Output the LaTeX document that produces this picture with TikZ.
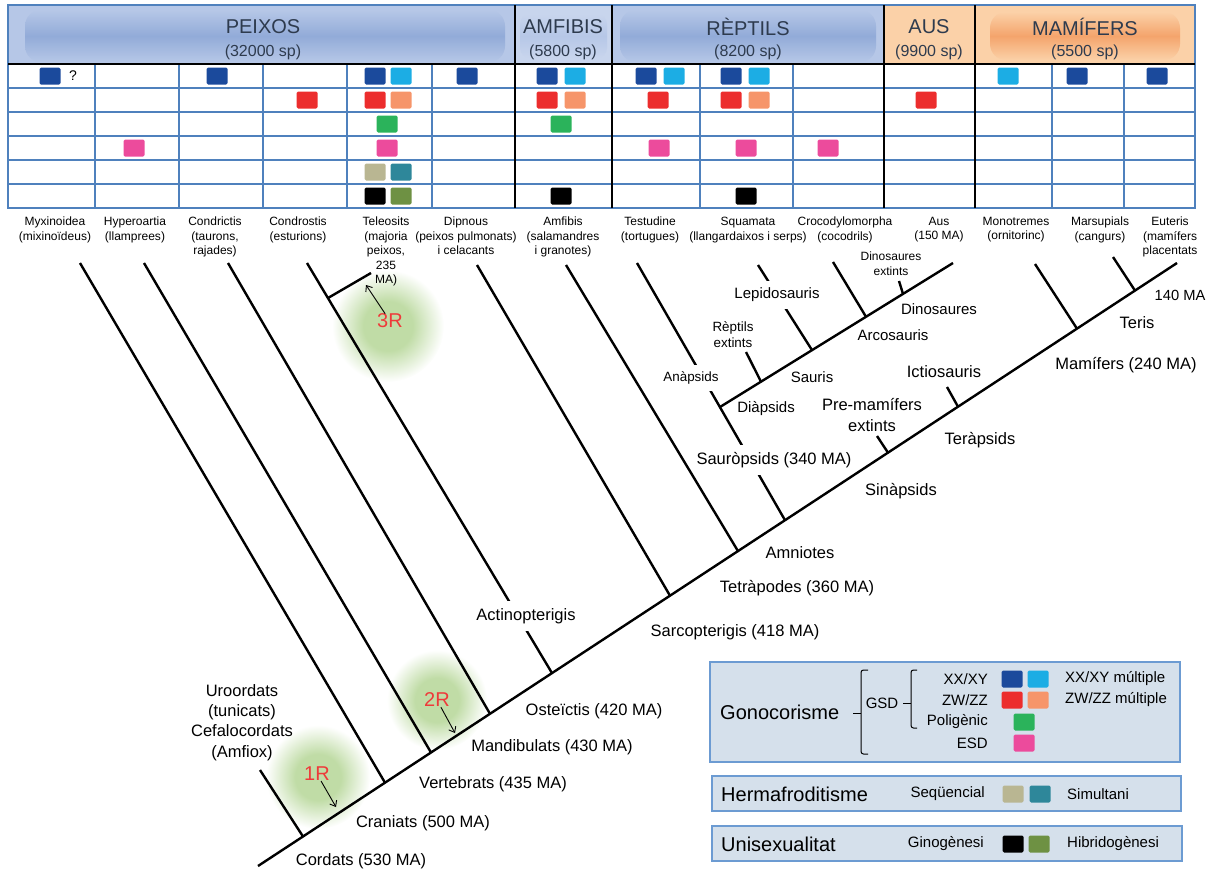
\documentclass[tikz,border=0pt]{standalone}
\usepackage{fontspec}
\setmainfont{Liberation Sans}
\usetikzlibrary{arrows.meta}

\definecolor{xxblue}{HTML}{1B4A9C}
\definecolor{xxmult}{HTML}{1CADE4}
\definecolor{zwred}{HTML}{EC2D2D}
\definecolor{zwmult}{HTML}{F6956A}
\definecolor{polig}{HTML}{2BB35B}
\definecolor{esdpink}{HTML}{EC4B9C}
\definecolor{seqtan}{HTML}{B9B692}
\definecolor{simteal}{HTML}{2E879A}
\definecolor{hibolive}{HTML}{6E9143}
\definecolor{gridblue}{HTML}{4F81BD}
\definecolor{hdrblue}{HTML}{B6C7E7}
\definecolor{hdrbluedk}{HTML}{92ABD8}
\definecolor{hdrorange}{HTML}{FBD1A8}
\definecolor{hdrorangedk}{HTML}{F4A46C}
\definecolor{hdrtext}{HTML}{2E3B4E}
\definecolor{legfill}{HTML}{D5E0EB}
\definecolor{legline}{HTML}{6C9BD2}
\definecolor{glowgreen}{HTML}{C0DCA6}
\definecolor{dupred}{HTML}{EE3A3A}
\pgfdeclareradialshading{glowshade}{\pgfpoint{0bp}{0bp}}{color(0bp)=(glowgreen); color(11bp)=(glowgreen); color(25bp)=(white); color(50bp)=(white)}

\begin{document}
\begin{tikzpicture}
  [x=1pt,y=-1pt,every node/.style={inner sep=0pt,align=center,text=black},
   branch/.style={line width=2.4pt},
   cutout/.style={fill=white,inner xsep=1pt,inner ysep=7pt},
   clade/.style={font=\fontsize{16.5}{20.3}\selectfont},
   subclade/.style={font=\fontsize{15}{18}\selectfont},
   minor/.style={font=\fontsize{13.4}{16}\selectfont},
   taxon/.style={anchor=north,font=\fontsize{12}{14.5}\selectfont},
   sq/.style={fill=#1,rounded corners=1.5pt,minimum width=21pt,minimum height=17pt},
   dup/.style={text=dupred,font=\fontsize{20}{24}\selectfont},
   duparrow/.style={-{Straight Barb[length=5pt,width=8pt]},line width=0.9pt},
   glow/.style={shading=glowshade},
   gridln/.style={gridblue,line width=1.6pt},
   blackln/.style={line width=2.8pt},
   hdr/.style={text=hdrtext,font=\fontsize{20}{24}\selectfont},
   hdrsub/.style={text=hdrtext,font=\fontsize{16}{19}\selectfont},
   legbox/.style={draw=legline,fill=legfill,line width=1.6pt},
   legtitle/.style={anchor=west,font=\fontsize{20}{24}\selectfont},
   legitem/.style={font=\fontsize{15}{18}\selectfont},
   brk/.style={line width=1pt,rounded corners=2.5pt}]
  \useasboundingbox (0,0) rectangle (1214,870);

  \shade[glow] (318,777) circle (52);
  \shade[glow] (437,700) circle (50);
  \shade[glow] (388,326) circle (56);

  \fill[hdrblue] (9,6) rectangle (515,63);
  \shade[rounded corners=16pt,top color=hdrblue,bottom color=hdrblue,middle color=hdrbluedk] (25,10) rectangle (505,62);
  \fill[hdrblue!75!white] (515,6) rectangle (612,63);
  \shade[rounded corners=10pt,top color=hdrblue!75!white,bottom color=hdrblue!75!white,middle color=hdrblue] (520,14) rectangle (607,58);
  \fill[hdrblue] (612,6) rectangle (884,63);
  \shade[rounded corners=16pt,top color=hdrblue,bottom color=hdrblue,middle color=hdrbluedk] (620,10) rectangle (876,62);
  \fill[hdrorange] (884,6) rectangle (975,63);
  \fill[hdrorange] (975,6) rectangle (1195,63);
  \shade[rounded corners=16pt,top color=hdrorange,bottom color=hdrorange,middle color=hdrorangedk] (990,12) rectangle (1180,60);

  \foreach \gy in {88,112,...,184}
    \draw[gridln] (9,\gy) -- (1195,\gy);
  \foreach \gx in {95,179,263,347,432,700,793,1052,1124}
    \draw[gridln] (\gx,64) -- (\gx,208);
  \draw[gridln,line width=2pt] (8,5) rectangle (1195,208);
  \draw[blackln] (8,64) -- (1195,64);
  \foreach \gx in {515,612,884,975}
    \draw[blackln] (\gx,5) -- (\gx,208);

  \node[hdr] (hpeix) at (263,27) {PEIXOS};
  \node[hdrsub] (hpeixn) at (263,52) {(32000 sp)};
  \node[hdr] (hamf) at (563,27) {AMFIBIS};
  \node[hdrsub] (hamfn) at (563,52) {(5800 sp)};
  \node[hdr] (hrep) at (748,27) {RÈPTILS};
  \node[hdrsub] (hrepn) at (748,52) {(8200 sp)};
  \node[hdr] (haus) at (929,27) {AUS};
  \node[hdrsub] (hausn) at (929,52) {(9900 sp)};
  \node[hdr] (hmam) at (1085,27) {MAMÍFERS};
  \node[hdrsub] (hmamn) at (1085,52) {(5500 sp)};

  \foreach \cx/\ry/\col in {50/1/xxblue,134/4/esdpink,217/1/xxblue,307/2/zwred,
    375/1/xxblue,401/1/xxmult,375/2/zwred,401/2/zwmult,387/3/polig,387/4/esdpink,
    375/5/seqtan,401/5/simteal,375/6/black,401/6/hibolive,467/1/xxblue,
    547/1/xxblue,575/1/xxmult,547/2/zwred,575/2/zwmult,561/3/polig,561/6/black,
    646/1/xxblue,674/1/xxmult,658/2/zwred,659/4/esdpink,
    731/1/xxblue,759/1/xxmult,731/2/zwred,759/2/zwmult,746/4/esdpink,746/6/black,
    828/4/esdpink,926/2/zwred,1008/1/xxmult,1077/1/xxblue,1157/1/xxblue}
    \node[sq=\col] (m-\cx-\ry) at (\cx,52+24*\ry) {};
  \node[font=\fontsize{14}{16}\selectfont] (qmark) at (73,76) {?};

  \node[taxon] (tmyx) at (55,217) {Myxinoidea\\(mixinoïdeus)};
  \node[taxon] (thyp) at (135,217) {Hyperoartia\\(llamprees)};
  \node[taxon] (tcondric) at (215,217) {Condrictis\\(taurons,\\rajades)};
  \node[taxon] (tcondros) at (298,217) {Condrostis\\(esturions)};
  \node[taxon] (tteleo) at (386,217) {Teleosits\\(majoria\\peixos,\\235\\MA)};
  \node[taxon] (tdip) at (466,217) {Dipnous\\(peixos pulmonats)\\i celacants};
  \node[taxon] (tamf) at (563,217) {Amfibis\\(salamandres\\i granotes)};
  \node[taxon] (ttest) at (650,217) {Testudine\\(tortugues)};
  \node[taxon] (tsqua) at (748,217) {Squamata\\(llangardaixos i serps)};
  \node[taxon] (tcroc) at (845,217) {Crocodylomorpha\\(cocodrils)};
  \node[taxon] (taus) at (939,217) {Aus\\(150 MA)};
  \node[taxon] (tmono) at (1016,217) {Monotremes\\(ornitorinc)};
  \node[taxon] (tmars) at (1100,217) {Marsupials\\(cangurs)};
  \node[taxon] (teut) at (1170,217) {Euteris\\(mamífers\\placentats};

  \coordinate (root) at (258,866);
  \coordinate (eut) at (1177,263);
  \coordinate (cordats) at (303,836.5);
  \coordinate (craniats) at (385,782.7);
  \coordinate (vertebrats) at (431,752.5);
  \coordinate (mandibulats) at (490,713.8);
  \coordinate (osteictis) at (552,673.1);
  \coordinate (sarcopt) at (670,595.7);
  \coordinate (tetrapodes) at (738,551.1);
  \coordinate (amniotes) at (785,520.2);
  \coordinate (premam) at (888,452.7);
  \coordinate (terapsids) at (958,406.7);
  \coordinate (mamifers) at (1077,328.7);
  \coordinate (teris) at (1135,290.6);
  \coordinate (uro) at (260,770);
  \coordinate (myx) at (80,263);
  \coordinate (hyp) at (144,263);
  \coordinate (condric) at (228,263);
  \coordinate (condros) at (307,263);
  \coordinate (teleostj) at (328,298);
  \coordinate (teleo) at (371,273);
  \coordinate (dip) at (477,265);
  \coordinate (amf) at (566,265);
  \coordinate (testu) at (637,263);
  \coordinate (diapsids) at (720,407);
  \coordinate (aus) at (953,263);
  \coordinate (jrext) at (761,381.7);
  \coordinate (rext) at (746,352);
  \coordinate (lepido) at (812,350.1);
  \coordinate (squa) at (758,265);
  \coordinate (arco) at (866,316.8);
  \coordinate (croc) at (833,262);
  \coordinate (dino) at (903,293.9);
  \coordinate (dext) at (899,281);
  \coordinate (prex) at (877,436);
  \coordinate (icti) at (947,387);
  \coordinate (mono) at (1035,264);
  \coordinate (mars) at (1113,257);

  \foreach \from/\to in {uro/cordats,myx/craniats,hyp/vertebrats,condric/mandibulats,
    condros/osteictis,teleo/teleostj,dip/sarcopt,amf/tetrapodes,testu/amniotes,
    diapsids/aus,rext/jrext,squa/lepido,croc/arco,dext/dino,prex/premam,
    icti/terapsids,mono/mamifers,mars/teris}
    \draw[branch] (\from) -- (\to);

  \node[clade,cutout] (lactino) at (526,616) {Actinopterigis};
  \node[clade,cutout] (lsauro) at (774,460) {Sauròpsids (340 MA)};
  \node[minor,cutout] (lanap) at (691,378) {Anàpsids};
  \node[subclade,cutout] (llepido) at (777,295) {Lepidosauris};

  \draw[branch] (root) -- (eut);

  \node[clade] (luro) at (242,722.5) {Uroordats\\(tunicats)\\Cefalocordats\\(Amfiox)};
  \node[clade] (lcordats) at (361,861) {Cordats (530 MA)};
  \node[clade] (lcraniats) at (423,823) {Craniats (500 MA)};
  \node[clade] (lvert) at (493,784) {Vertebrats (435 MA)};
  \node[clade] (lmand) at (552,747) {Mandibulats (430 MA)};
  \node[clade] (lost) at (594,711) {Osteïctis (420 MA)};
  \node[clade] (lsarc) at (735,632) {Sarcopterigis (418 MA)};
  \node[clade] (ltetra) at (797,588) {Tetràpodes (360 MA)};
  \node[clade] (lamnio) at (800,553) {Amniotes};
  \node[subclade] (ldiap) at (766,409) {Diàpsids};
  \node[minor] (lrext) at (733,335) {Rèptils\\extints};
  \node[subclade] (lsauris) at (812,377) {Sauris};
  \node[subclade] (larco) at (893,335) {Arcosauris};
  \node[subclade] (ldino) at (939,309) {Dinosaures};
  \node[font=\fontsize{12}{15}\selectfont] (ldext) at (891,263.5) {Dinosaures\\extints};
  \node[clade] (lprem) at (872,415) {Pre-mamífers\\extints};
  \node[clade] (licti) at (944,372) {Ictiosauris};
  \node[clade] (lterap) at (980,440) {Teràpsids};
  \node[clade] (lsinap) at (901,491) {Sinàpsids};
  \node[clade] (lmam) at (1126,365) {Mamífers (240 MA)};
  \node[clade] (lteris) at (1137,323) {Teris};
  \node[font=\fontsize{14.7}{17}\selectfont] (l140) at (1180,295) {140 MA};

  \node[dup] (d1) at (317,774) {1R};
  \node[dup] (d2) at (437,700) {2R};
  \node[dup] (d3) at (390,321) {3R};
  \coordinate (a1) at (336,807);
  \coordinate (a2) at (455,733);
  \coordinate (a3) at (366,285);
  \foreach \from/\to in {d1/a1,d2/a2,d3/a3}
    \draw[duparrow] (\from) -- (\to);

  \draw[legbox] (710,662) rectangle (1180,762);
  \draw[legbox] (712,776) rectangle (1181,811);
  \draw[legbox] (712,826) rectangle (1182,861);

  \node[legtitle] (tgono) at (720,712) {Gonocorisme};
  \node[legtitle] (therm) at (721,794) {Hermafroditisme};
  \node[legtitle] (tunis) at (721,844) {Unisexualitat};
  \draw[brk] (868,670) -- (861,670) -- (861,754) -- (868,754);
  \draw[brk] (853,713) -- (861,713);
  \node[legitem] (tgsd) at (882,703) {GSD};
  \draw[brk] (917,670) -- (911,670) -- (911,728) -- (917,728);
  \draw[brk] (903,703) -- (911,703);
  \node[legitem,anchor=east] (txx) at (988,679) {XX/XY};
  \node[legitem,anchor=east] (tzw) at (988,700) {ZW/ZZ};
  \node[legitem,anchor=east] (tpol) at (988,722) {Poligènic};
  \node[legitem,anchor=east] (tesd) at (988,743) {ESD};
  \node[legitem,anchor=west] (txxm) at (1065,679) {XX/XY múltiple};
  \node[legitem,anchor=west] (tzwm) at (1065,700) {ZW/ZZ múltiple};
  \node[legitem,anchor=east] (tseq) at (985,794) {Seqüencial};
  \node[legitem,anchor=west] (tsim) at (1067,794) {Simultani};
  \node[legitem,anchor=east] (tgin) at (984,844) {Ginogènesi};
  \node[legitem,anchor=west] (thib) at (1067,844) {Hibridogènesi};

  \node[sq=xxblue] (kxx) at (1012,679) {};
  \node[sq=xxmult] (kxxm) at (1038,679) {};
  \node[sq=zwred] (kzw) at (1012,700) {};
  \node[sq=zwmult] (kzwm) at (1038,700) {};
  \node[sq=polig] (kpol) at (1024,722) {};
  \node[sq=esdpink] (kesd) at (1024,743) {};
  \node[sq=seqtan] (kseq) at (1013,794) {};
  \node[sq=simteal] (ksim) at (1040,794) {};
  \node[sq=black] (kgin) at (1013,844) {};
  \node[sq=hibolive] (khib) at (1039,844) {};
\end{tikzpicture}
\end{document}
